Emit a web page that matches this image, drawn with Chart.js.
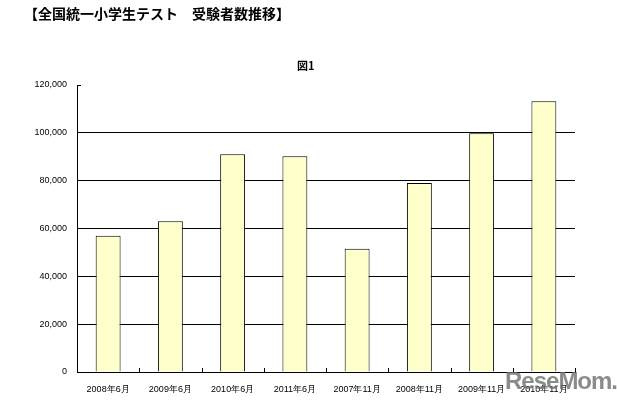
<!DOCTYPE html>
<html>
<head>
<meta charset="utf-8">
<script src="https://cdn.jsdelivr.net/npm/chart.js@4/dist/chart.umd.min.js"></script>
<style>
  body { margin: 0; background: #fff; }
  #wrap { position: relative; width: 617px; height: 403px; }
  #title { position: absolute; left: 24px; top: 3px; font: bold 14px "Noto Sans CJK JP", sans-serif; color: #000; white-space: pre; }
  #fig { position: absolute; left: 297px; top: 57px; font: bold 11px "Noto Sans CJK JP", sans-serif; color: #000; }
  #mark { position: absolute; left: 505px; top: 367px; font: bold 24px "Liberation Sans", Arial, sans-serif; color: rgba(110,110,110,0.8); letter-spacing: -1px; }
</style>
</head>
<body>
<div id="wrap">
  <canvas id="chart-area" width="617" height="403"></canvas>
  <div id="title">【全国統一小学生テスト　受験者数推移】</div>
  <div id="fig">図1</div>
  <div id="mark">ReseMom.</div>
</div>
<script>
var labels = ["2008年6月", "2009年6月", "2010年6月", "2011年6月", "2007年11月", "2008年11月", "2009年11月", "2010年11月"];
var examinees = [57000, 63000, 91000, 90200, 51500, 79000, 99800, 113200];
var yTicks = [0, 20000, 40000, 60000, 80000, 100000, 120000];

// small tick marks drawn inside the plot, like the original
var innerTicks = {
    id: 'innerTicks',
    afterDatasetsDraw: function (chart) {
        var ctx = chart.ctx;
        var x = chart.scales.x, y = chart.scales.y;
        ctx.save();
        ctx.strokeStyle = '#000';
        ctx.lineWidth = 1;
        ctx.beginPath();
        var n = labels.length;
        for (var i = 1; i <= n; i++) {
            var px = Math.round(x.left + (x.right - x.left) * i / n) + 0.5;
            ctx.moveTo(px, y.bottom);
            ctx.lineTo(px, y.bottom - 4);
        }
        var top = Math.round(y.getPixelForValue(yTicks[yTicks.length - 1])) + 0.5;
        ctx.moveTo(x.left, top);
        ctx.lineTo(x.left + 4, top);
        ctx.stroke();
        ctx.restore();
    }
};

var config = {
    type: 'bar',
    data: {
        labels: labels,
        datasets: [{
            data: examinees,
            backgroundColor: "#FFFFCC",
            borderColor: "#000",
            borderWidth: 1,
            barPercentage: 0.4,
            categoryPercentage: 1.0
        }]
    },
    options: {
        responsive: false,
        animation: false,
        layout: { padding: { top: 85, right: 42, left: 0, bottom: 0 } },
        plugins: { legend: { display: false }, tooltip: { enabled: false } },
        scales: {
            x: {
                grid: { display: false },
                border: { color: '#000', width: 1 },
                ticks: { color: '#000', font: { family: 'Liberation Sans', size: 9 }, padding: 4, maxRotation: 0, autoSkip: false },
                afterFit: function (s) { s.height = 31; }
            },
            y: {
                min: 0,
                max: 120000,
                afterBuildTicks: function (s) { s.ticks = yTicks.map(function (v) { return { value: v }; }); },
                grid: {
                    color: function (c) { return (c.tick && c.tick.value === 120000) ? 'rgba(0,0,0,0)' : '#000'; },
                    lineWidth: 1,
                    drawTicks: false
                },
                border: { color: '#000', width: 1 },
                ticks: {
                    color: '#000',
                    font: { family: 'Liberation Sans', size: 9 },
                    padding: 10,
                    callback: function (v) { return v.toLocaleString('en-US'); }
                },
                afterFit: function (s) { s.width = 77; }
            }
        }
    },
    plugins: [innerTicks]
};

var ctx = document.getElementById("chart-area").getContext("2d");
window.myBar = new Chart(ctx, config);
</script>
</body>
</html>
